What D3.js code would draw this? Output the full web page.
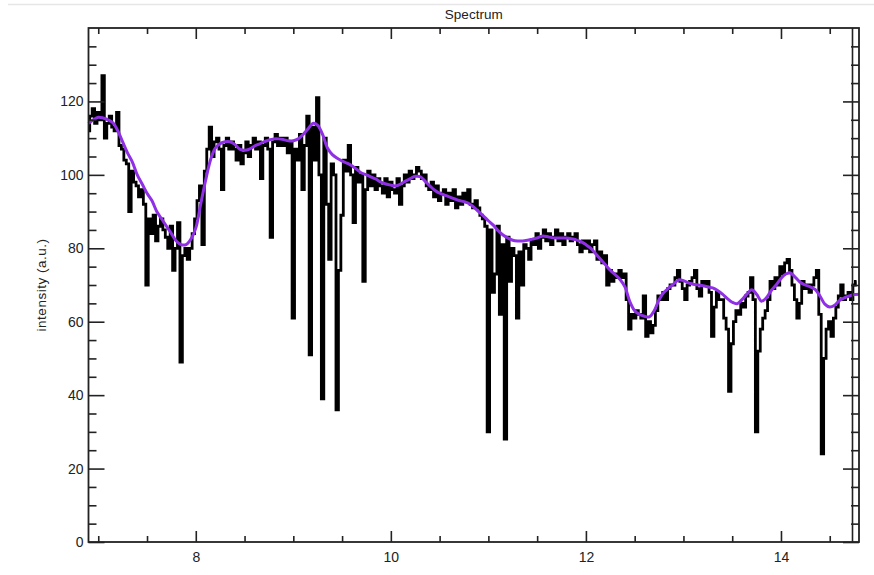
<!DOCTYPE html>
<html>
<head>
<meta charset="utf-8">
<script src="https://cdn.jsdelivr.net/npm/d3@7"></script>
<style>
  body { margin: 0; background: #fff; }
  svg { display: block; font-family: "Liberation Sans", Arial, sans-serif; }
  .axis path, .axis line { stroke: #222; stroke-width: 1.6; }
  .axis text { font-size: 14px; fill: #222; }
</style>
</head>
<body>
<svg id="chart" width="874" height="575"></svg>
<script>
// spectrum sampled every 0.025 starting at 6.9
const specStart = 6.9;
const specStep = 0.025;
const spectrum = [
  112, 116, 118, 114, 117, 115, 127, 110, 114, 116, 113, 112, 117, 108, 107, 104, 103, 90, 101, 98,
  97, 94, 96, 92, 70, 88, 84, 89, 82, 86, 88, 85, 83, 80, 86, 74, 80, 87, 49, 78,
  80, 77, 80, 84, 88, 93, 97, 81, 101, 107, 113, 105, 109, 110, 107, 96, 108, 110, 107, 109,
  107, 104, 108, 103, 106, 109, 105, 108, 110, 107, 109, 99, 108, 110, 107, 83, 109, 111, 108, 110,
  108, 110, 106, 109, 61, 107, 104, 111, 96, 108, 116, 51, 113, 104, 121, 100, 39, 110, 92, 77,
  103, 100, 36, 74, 89, 104, 101, 108, 100, 87, 102, 98, 100, 71, 96, 101, 97, 100, 96, 99,
  97, 95, 99, 94, 98, 96, 95, 99, 92, 97, 100, 98, 101, 99, 100, 102, 101, 99, 100, 97,
  96, 98, 94, 97, 93, 95, 96, 92, 95, 93, 96, 91, 94, 92, 95, 93, 96, 92, 91, 93,
  91, 89, 88, 86, 30, 85, 68, 73, 86, 62, 81, 28, 83, 71, 80, 78, 61, 79, 70, 81,
  80, 77, 82, 81, 84, 80, 83, 85, 82, 84, 81, 83, 85, 82, 84, 81, 83, 84, 82, 83,
  84, 81, 79, 82, 80, 82, 79, 81, 82, 77, 79, 76, 78, 70, 74, 71, 73, 72, 74, 72,
  73, 66, 58, 62, 61, 63, 62, 61, 67, 56, 60, 57, 59, 63, 67, 66, 68, 66, 69, 70,
  70, 72, 74, 71, 69, 66, 70, 71, 72, 74, 69, 67, 71, 70, 71, 68, 56, 64, 68, 66,
  66, 61, 58, 41, 54, 60, 63, 62, 65, 64, 67, 68, 72, 66, 30, 52, 58, 61, 63, 66,
  71, 69, 72, 70, 75, 73, 76, 77, 74, 70, 66, 61, 65, 71, 69, 70, 68, 70, 72, 74,
  62, 24, 50, 58, 60, 56, 61, 64, 67, 70, 66, 67, 68, 66, 70, 71
];

// smooth fit sampled every 0.05 starting at 6.9
const fitStart = 6.9;
const fitStep = 0.05;
const fit = [
  114, 115, 115.7, 115.5, 115, 114.2, 112, 109, 106, 103.5,
  100, 97.5, 95, 93, 90, 88, 86, 84, 82, 81,
  81, 82.5, 85.5, 92, 98.4, 104, 107.3, 108.5, 109, 109,
  108.3, 107, 106.7, 107, 107.8, 108.4, 109, 109.5, 109.8, 109.8,
  109.6, 109.3, 109.3, 109.8, 111, 112.5, 114, 113.5, 111, 107.3,
  105.5, 104.5, 103.8, 103.2, 102.5, 101.5, 100.5, 100, 99.4, 98.8,
  98, 97.5, 97.2, 97, 97.5, 98.3, 99, 99.6, 99.5, 98.3,
  97, 95.8, 95, 94.5, 94, 93.5, 93, 92.7, 92.2, 91.2,
  90, 88.8, 87.5, 86.3, 84.8, 83.6, 82.8, 82.2, 82, 82,
  82.2, 82.5, 82.8, 83.3, 83.2, 82.9, 82.8, 82.8, 82.8, 82.6,
  82.3, 81.8, 81, 80, 78.5, 77, 75.5, 74, 72.8, 71.5,
  69.5, 65.5, 63, 62, 61.5, 61.3, 63, 66, 68, 69.2,
  70.3, 71.4, 71.2, 70.6, 70.2, 70, 69.8, 69.5, 69.2, 68.5,
  67.5, 66.3, 65.3, 64.9, 66, 67.5, 68.7, 67.5, 65.6, 66.5,
  68.5, 70, 71.8, 73, 73.2, 72, 70.7, 70, 69.5, 68.8,
  67, 64.8, 64, 64.5, 65.8, 66.5, 67, 67.4, 67.5
];

const xMajor = [8, 10, 12, 14];
const xMinor = [7, 7.5, 8.5, 9, 9.5, 10.5, 11, 11.5, 12.5, 13, 13.5, 14.5];
const yMajor = [0, 20, 40, 60, 80, 100, 120];
const yMinor = [5, 10, 15, 25, 30, 35, 45, 50, 55, 65, 70, 75, 85, 90, 95, 105, 110, 115, 125, 130, 135];

const svg = d3.select("#chart");
const W = 874, H = 575;
const margin = { top: 28, right: 15, bottom: 33, left: 88.5 };
const w = W - margin.left - margin.right;
const h = H - margin.top - margin.bottom;

const x = d3.scaleLinear().domain([6.9, 14.8]).range([0, w]);
const y = d3.scaleLinear().domain([0, 140]).range([h, 0]);

// faint window line at the very top
svg.append("line")
  .attr("x1", 8).attr("x2", W).attr("y1", 4.5).attr("y2", 4.5)
  .attr("stroke", "#e6e6e6").attr("stroke-width", 1.5);

svg.append("text")
  .attr("x", margin.left + w / 2).attr("y", 19)
  .attr("text-anchor", "middle")
  .style("font-size", "13.5px").style("fill", "#222")
  .text("Spectrum");

const g = svg.append("g").attr("transform", `translate(${margin.left},${margin.top})`);

const specData = spectrum.map((v, i) => [specStart + i * specStep, v]);
const fitData = fit.map((v, i) => [fitStart + i * fitStep, v]);

g.append("path")
  .datum(specData)
  .attr("fill", "none")
  .attr("stroke", "#000")
  .attr("stroke-width", 2.8)
  .attr("d", d3.line().x(d => x(d[0])).y(d => y(d[1])).curve(d3.curveStep));

g.append("path")
  .datum(fitData)
  .attr("fill", "none")
  .attr("stroke", "#9030e6")
  .attr("stroke-width", 3)
  .attr("d", d3.line().x(d => x(d[0])).y(d => y(d[1])).curve(d3.curveCatmullRom));

// axes: ticks point inward like the original plot
function addAxis(axis, transform, cls) {
  const a = g.append("g").attr("class", "axis " + cls).attr("transform", transform).call(axis);
  a.select(".domain").remove();
  return a;
}

addAxis(d3.axisBottom(x).tickValues(xMajor).tickSize(-11).tickSizeOuter(0).tickPadding(8).tickFormat(d3.format("d")), `translate(0,${h})`, "xb");
addAxis(d3.axisBottom(x).tickValues(xMinor).tickSize(-6).tickFormat(""), `translate(0,${h})`, "xbm");
addAxis(d3.axisTop(x).tickValues(xMajor).tickSize(-11).tickFormat(""), "translate(0,0)", "xt");
addAxis(d3.axisTop(x).tickValues(xMinor).tickSize(-6).tickFormat(""), "translate(0,0)", "xtm");

addAxis(d3.axisLeft(y).tickValues(yMajor).tickSize(-16).tickPadding(5).tickFormat(d3.format("d")), "translate(0,0)", "yl");
addAxis(d3.axisLeft(y).tickValues(yMinor).tickSize(-8).tickFormat(""), "translate(0,0)", "ylm");
addAxis(d3.axisRight(y).tickValues(yMajor).tickSize(-16).tickFormat(""), `translate(${w},0)`, "yr");
addAxis(d3.axisRight(y).tickValues(yMinor).tickSize(-8).tickFormat(""), `translate(${w},0)`, "yrm");

g.select(".xb").selectAll("text").attr("dy", "0.85em");

// frame
g.append("rect")
  .attr("width", w).attr("height", h)
  .attr("fill", "none").attr("stroke", "#222").attr("stroke-width", 1.8);
// second line just inside the right edge
g.append("line")
  .attr("x1", w - 6.5).attr("x2", w - 6.5).attr("y1", 0).attr("y2", h)
  .attr("stroke", "#222").attr("stroke-width", 1.6);

svg.append("text")
  .attr("transform", `translate(46,${margin.top + h / 2}) rotate(-90)`)
  .attr("text-anchor", "middle")
  .style("font-size", "13.5px").style("letter-spacing", "0.5px").style("fill", "#222")
  .text("intensity (a.u.)");
</script>
</body>
</html>
